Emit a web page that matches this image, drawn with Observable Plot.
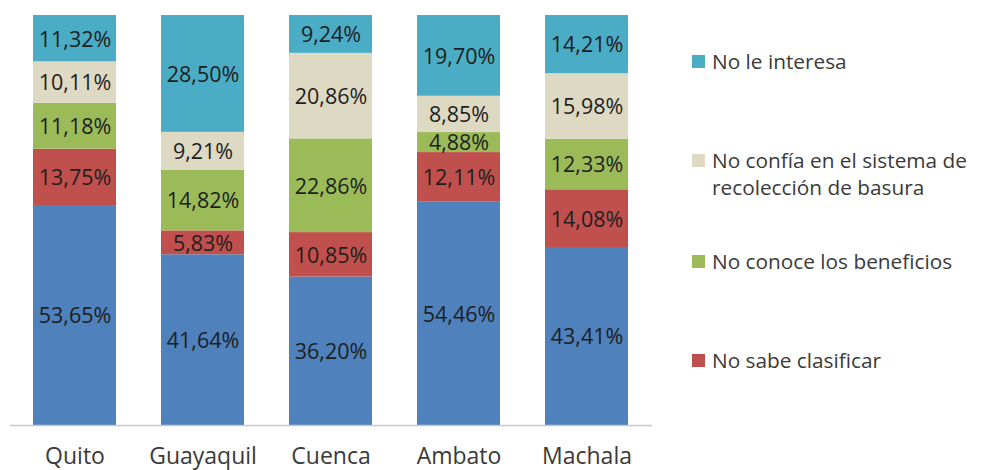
<!DOCTYPE html>
<html>
<head>
<meta charset="utf-8">
<script src="https://cdn.jsdelivr.net/npm/d3@7"></script>
<script src="https://cdn.jsdelivr.net/npm/@observablehq/plot@0.6"></script>
<style>
  html, body { margin: 0; padding: 0; background: #fff; }
  #wrap { position: relative; width: 982px; height: 470px; overflow: hidden; font-family: "Open Sans", sans-serif; }
  #legend { position: absolute; left: 692px; top: 0; }
  .item { position: absolute; left: 0; white-space: nowrap; font-size: 20.8px; color: #3a3a3a; line-height: 27px; }
  .sw { position: absolute; left: 0; top: 7px; width: 13px; height: 13px; }
  .lbl { position: absolute; left: 20px; top: 0; }
</style>
</head>
<body>
<div id="wrap"><div id="chart"></div><div id="legend"></div></div>
<script>
const cities = ["Quito", "Guayaquil", "Cuenca", "Ambato", "Machala"];
const seriesNames = ["Otros", "No sabe clasificar", "No conoce los beneficios", "No confía en el sistema de recolección de basura", "No le interesa"];
const seriesColors = ["#4F81BD", "#C0504D", "#9BBB59", "#DDD9C3", "#4BACC6"];
const otros = [53.65, 41.64, 36.20, 54.46, 43.41];
const noSabe = [13.75, 5.83, 10.85, 12.11, 14.08];
const noConoce = [11.18, 14.82, 22.86, 4.88, 12.33];
const noConfia = [10.11, 9.21, 20.86, 8.85, 15.98];
const noInteresa = [11.32, 28.50, 9.24, 19.70, 14.21];
const seriesValues = [otros, noSabe, noConoce, noConfia, noInteresa];
const legendItems = [
  {series: "No le interesa", lines: ["No le interesa"], top: 48},
  {series: "No confía en el sistema de recolección de basura", lines: ["No confía en el sistema de", "recolección de basura"], top: 147},
  {series: "No conoce los beneficios", lines: ["No conoce los beneficios"], top: 248},
  {series: "No sabe clasificar", lines: ["No sabe clasificar"], top: 347}
];

const data = [];
seriesNames.forEach((s, si) => {
  cities.forEach((c, ci) => {
    data.push({city: c, series: s, value: seriesValues[si][ci]});
  });
});
const fmt = v => v.toFixed(2).replace(".", ",") + "%";

const chart = Plot.plot({
  width: 982,
  height: 470,
  marginLeft: 10,
  marginRight: 330,
  marginTop: 15,
  marginBottom: 45,
  style: {fontFamily: "'Open Sans', sans-serif", background: "#fff"},
  x: {domain: cities, paddingInner: 0.35, paddingOuter: 0.18, label: null},
  y: {domain: [0, 100], axis: null},
  color: {domain: seriesNames, range: seriesColors},
  marks: [
    Plot.barY(data, {x: "city", y: "value", z: "series", fill: "series", order: seriesNames}),
    Plot.ruleY([0], {stroke: "#c8c8c8", strokeWidth: 1.5}),
    Plot.text(data, Plot.stackY({x: "city", y: "value", z: "series", order: seriesNames, text: d => fmt(d.value), fill: "#1e1e1e", fontSize: 21.5, dy: 1})),
    Plot.axisX({tickSize: 0, tickPadding: 22, fontSize: 23, color: "#3a3a3a", label: null})
  ]
});
document.getElementById("chart").appendChild(chart);

const leg = document.getElementById("legend");
const colorOf = s => seriesColors[seriesNames.indexOf(s)];
legendItems.forEach(it => {
  const div = document.createElement("div");
  div.className = "item";
  div.style.top = it.top + "px";
  const sw = document.createElement("div");
  sw.className = "sw";
  sw.style.background = colorOf(it.series);
  const lbl = document.createElement("div");
  lbl.className = "lbl";
  lbl.innerHTML = it.lines.join("<br>");
  div.appendChild(sw);
  div.appendChild(lbl);
  leg.appendChild(div);
});
</script>
</body>
</html>
